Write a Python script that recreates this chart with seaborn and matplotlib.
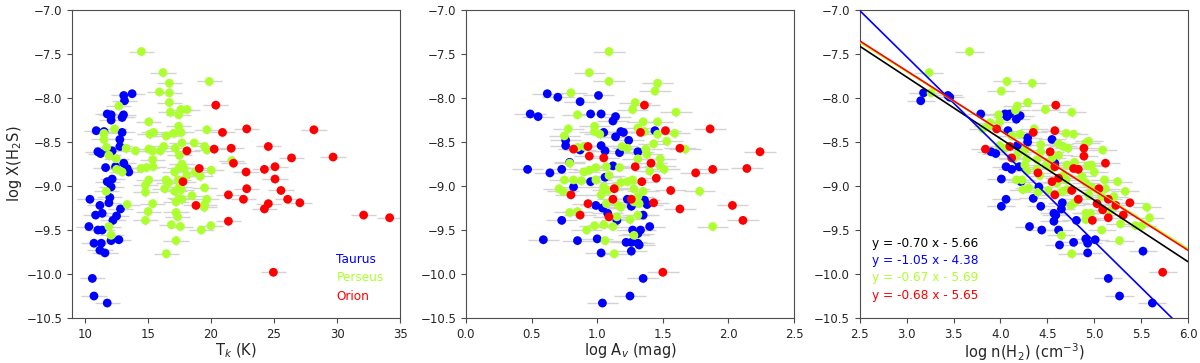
import numpy as np
import pandas as pd
import matplotlib
matplotlib.use('Agg')
import matplotlib.pyplot as plt
import seaborn as sns

# log X(H2S) against kinetic temperature, extinction and density

regions = ['Taurus', 'Perseus', 'Orion']
colors = {'Taurus': 'blue', 'Perseus': 'greenyellow', 'Orion': 'red'}

# panel 1: Tk (K)
tk_taurus = [13.76, 13.1, 13.16, 13.08, 12.97, 11.79, 12.1, 12.1, 10.92, 11.53, 12.97, 12.79, 12.79, 11.79,
             11.05, 11.26, 12.18, 13.1, 11.66, 12.45, 13.5, 13.37, 12.18, 11.79, 12.1, 10.42, 12.0, 11.92,
             11.21, 12.84, 11.39, 10.87, 12.53, 12.24, 10.34, 11.05, 11.39, 12.71, 12.1, 10.74, 11.32, 11.21,
             11.61, 10.61, 10.74, 11.79]
xh2s_tk_taurus = [-7.95, -7.97, -8.03, -8.19, -8.22, -8.18, -8.19, -8.25, -8.37, -8.38, -8.39, -8.47, -8.55,
                  -8.58, -8.61, -8.63, -8.60, -8.74, -8.79, -8.78, -8.84, -8.80, -8.92, -8.95, -9.01, -9.15,
                  -9.13, -9.19, -9.22, -9.26, -9.31, -9.33, -9.34, -9.39, -9.46, -9.50, -9.50, -9.61, -9.62,
                  -9.65, -9.65, -9.73, -9.76, -10.05, -10.25, -10.33]
tk_perseus = [14.5, 16.21, 19.87, 16.71, 15.92, 16.71, 16.71, 12.71, 17.63, 18.1, 16.79, 17.45, 15.08, 12.37,
              19.68, 17.45, 11.53, 15.16, 15.47, 16.47, 17.05, 17.63, 11.53, 17.71, 18.68, 16.26, 17.18, 13.29,
              14.03, 15.08, 15.39, 16.0, 19.5, 19.68, 11.74, 11.92, 12.5, 15.39, 17.5, 21.66, 17.71, 17.5,
              14.47, 14.89, 15.42, 12.53, 12.97, 17.13, 17.89, 20.03, 18.76, 18.1, 19.16, 15.08, 14.82, 16.45,
              16.66, 17.42, 17.5, 14.82, 16.34, 17.13, 17.66, 19.5, 11.71, 18.5, 17.5, 19.68, 17.24, 17.71,
              13.37, 15.39, 19.5, 19.47, 15.03, 17.24, 17.37, 14.82, 16.87, 17.58, 11.92, 20.0, 19.24, 12.1,
              17.24, 16.47]
xh2s_tk_perseus = [-7.47, -7.71, -7.81, -7.83, -7.93, -7.94, -8.05, -8.09, -8.13, -8.13, -8.16, -8.19, -8.27,
                   -8.35, -8.36, -8.32, -8.40, -8.41, -8.39, -8.43, -8.40, -8.39, -8.47, -8.51, -8.51, -8.55,
                   -8.57, -8.57, -8.60, -8.58, -8.60, -8.60, -8.55, -8.59, -8.56, -8.65, -8.69, -8.70, -8.65,
                   -8.71, -8.75, -8.79, -8.80, -8.79, -8.78, -8.81, -8.84, -8.84, -8.80, -8.82, -8.84, -8.88,
                   -8.89, -8.93, -8.99, -8.93, -8.96, -8.93, -9.01, -9.07, -9.03, -9.06, -9.04, -9.02, -9.06,
                   -9.11, -9.14, -9.15, -9.18, -9.15, -9.21, -9.20, -9.21, -9.24, -9.29, -9.30, -9.35, -9.39,
                   -9.44, -9.46, -9.46, -9.45, -9.50, -9.56, -9.62, -9.77]
tk_orion = [20.39, 20.92, 22.84, 28.16, 24.55, 21.61, 20.26, 18.1, 29.68, 26.39, 21.79, 25.08, 19.08, 24.24,
            22.79, 25.08, 17.79, 22.84, 25.55, 21.39, 22.58, 26.08, 27.05, 24.55, 18.82, 24.24, 32.1, 34.16,
            21.39, 24.95]
xh2s_tk_orion = [-8.08, -8.39, -8.35, -8.36, -8.55, -8.57, -8.58, -8.60, -8.67, -8.68, -8.74, -8.78, -8.80,
                 -8.81, -8.84, -8.92, -8.95, -9.03, -9.05, -9.10, -9.15, -9.15, -9.19, -9.20, -9.22, -9.26,
                 -9.33, -9.36, -9.40, -9.98]

# panel 2: log Av (mag)
av_taurus = [0.62, 0.70, 1.01, 0.87, 0.49, 0.55, 0.95, 1.03, 1.14, 1.12, 1.05, 1.14, 1.18, 1.20, 1.44, 0.76,
             0.76, 1.03, 1.24, 0.87, 1.06, 1.17, 1.31, 0.79, 0.47, 0.64, 0.73, 1.12, 0.95, 0.82, 1.06, 0.99,
             1.04, 1.08, 1.15, 1.23, 1.26, 1.36, 1.38, 1.35, 0.73, 1.27, 1.33, 1.31, 1.40, 0.59, 0.85, 1.00,
             1.22, 1.26, 1.31, 1.32, 1.03, 1.26, 1.35, 1.25, 1.04]
xh2s_av_taurus = [-7.95, -7.99, -7.97, -8.04, -8.18, -8.21, -8.18, -8.18, -8.21, -8.26, -8.39, -8.44, -8.38,
                  -8.39, -8.37, -8.48, -8.54, -8.54, -8.48, -8.59, -8.60, -8.62, -8.61, -8.73, -8.81, -8.85,
                  -8.81, -8.77, -8.95, -9.01, -8.90, -9.22, -9.25, -9.31, -9.39, -9.15, -9.23, -9.16, -9.21,
                  -9.33, -9.39, -9.50, -9.50, -9.54, -9.46, -9.61, -9.62, -9.60, -9.64, -9.64, -9.65, -9.67,
                  -9.76, -9.74, -10.05, -10.25, -10.33]
av_perseus = [1.09, 0.94, 1.09, 1.46, 1.44, 0.80, 1.29, 1.27, 0.85, 1.60, 1.35, 1.46, 0.78, 0.98, 1.31, 1.36,
              0.98, 0.75, 1.02, 1.46, 1.59, 1.53, 1.43, 1.19, 1.23, 1.67, 0.85, 0.90, 1.37, 1.38, 1.48, 1.31,
              0.79, 0.99, 1.07, 1.17, 0.94, 0.90, 1.40, 1.48, 1.51, 1.09, 0.75, 0.82, 0.88, 0.99, 1.18, 1.23,
              1.27, 1.05, 0.71, 0.74, 1.08, 1.14, 1.28, 1.35, 1.78, 1.03, 1.31, 1.07, 1.16, 1.18, 1.28, 1.32,
              0.79, 0.85, 1.15, 1.25, 1.31, 0.92, 0.98, 1.05, 1.12, 1.88, 1.28, 1.06, 1.13]
xh2s_av_perseus = [-7.47, -7.71, -7.81, -7.83, -7.92, -7.94, -8.05, -8.13, -8.19, -8.16, -8.27, -8.27, -8.35,
                   -8.32, -8.34, -8.38, -8.38, -8.43, -8.41, -8.41, -8.40, -8.49, -8.52, -8.55, -8.57, -8.58,
                   -8.56, -8.55, -8.58, -8.64, -8.69, -8.69, -8.74, -8.79, -8.78, -8.79, -8.82, -8.84, -8.83,
                   -8.77, -8.81, -8.88, -8.93, -8.93, -8.94, -8.93, -8.96, -8.95, -8.93, -9.01, -9.03, -9.06,
                   -9.05, -9.02, -9.03, -9.06, -9.06, -9.10, -9.12, -9.20, -9.22, -9.24, -9.18, -9.20, -9.30,
                   -9.29, -9.35, -9.38, -9.33, -9.50, -9.45, -9.44, -9.46, -9.46, -9.56, -9.62, -9.77]
av_orion = [1.36, 1.52, 1.33, 1.86, 1.63, 0.82, 0.93, 2.24, 0.94, 1.05, 1.41, 1.29, 1.75, 1.88, 2.14, 1.45,
            1.34, 1.13, 1.56, 0.80, 1.12, 1.26, 0.93, 1.43, 2.03, 1.63, 0.87, 1.09, 2.11, 1.50]
xh2s_av_orion = [-8.08, -8.37, -8.39, -8.35, -8.57, -8.58, -8.55, -8.61, -8.66, -8.68, -8.74, -8.78, -8.85,
                 -8.81, -8.80, -8.91, -8.95, -9.03, -9.05, -9.10, -9.15, -9.15, -9.20, -9.19, -9.22, -9.26,
                 -9.33, -9.35, -9.39, -9.98]

# panel 3: log n(H2) (cm-3)
nh2_taurus = [3.15, 3.18, 3.44, 3.46, 3.79, 4.05, 4.07, 4.10, 4.17, 4.21, 4.08, 4.29, 4.29, 4.55, 4.18, 3.90,
              3.95, 4.06, 4.12, 4.20, 4.01, 4.22, 4.41, 4.58, 4.06, 4.01, 4.35, 4.43, 4.57, 4.59, 4.57, 4.66,
              4.65, 4.81, 4.31, 4.44, 4.62, 4.63, 4.78, 4.91, 4.93, 4.93, 5.01, 5.52, 5.15, 5.27, 5.62]
xh2s_nh2_taurus = [-8.03, -7.94, -7.97, -7.99, -8.18, -8.18, -8.21, -8.18, -8.24, -8.20, -8.37, -8.45, -8.50,
                   -8.47, -8.54, -8.61, -8.63, -8.78, -8.81, -8.78, -8.92, -8.95, -9.01, -8.74, -9.15, -9.23,
                   -9.14, -9.23, -9.31, -9.33, -9.40, -9.19, -9.26, -9.39, -9.46, -9.50, -9.50, -9.67, -9.64,
                   -9.60, -9.65, -9.76, -9.61, -9.74, -10.05, -10.25, -10.33]
nh2_perseus = [3.67, 3.24, 3.26, 4.07, 4.01, 4.34, 4.29, 4.18, 4.16, 4.48, 4.76, 3.98, 3.81, 3.87, 3.89, 3.99,
               4.21, 4.36, 4.70, 4.78, 4.12, 3.99, 4.05, 4.43, 4.62, 4.67, 4.72, 4.91, 4.94, 5.09, 4.18, 4.26,
               4.43, 4.14, 4.28, 4.39, 4.62, 4.55, 4.26, 4.49, 4.55, 4.71, 4.79, 4.93, 4.97, 5.00, 4.28, 4.39,
               4.17, 4.23, 4.42, 4.67, 4.87, 4.60, 4.70, 4.91, 5.11, 5.25, 4.24, 4.30, 4.51, 4.66, 4.71, 4.97,
               5.03, 5.12, 5.33, 4.40, 4.94, 5.08, 5.21, 4.79, 4.75, 5.56, 4.91, 4.96, 5.17, 5.59, 4.91, 5.44,
               5.51, 5.28, 5.08, 4.65, 5.27, 4.76]
xh2s_nh2_perseus = [-7.47, -7.71, -7.94, -7.81, -7.92, -7.83, -8.05, -8.09, -8.14, -8.13, -8.16, -8.19, -8.35,
                    -8.32, -8.28, -8.27, -8.41, -8.35, -8.40, -8.41, -8.43, -8.54, -8.57, -8.53, -8.52, -8.55,
                    -8.57, -8.51, -8.49, -8.59, -8.64, -8.59, -8.61, -8.69, -8.69, -8.70, -8.65, -8.68, -8.76,
                    -8.76, -8.80, -8.76, -8.73, -8.77, -8.76, -8.84, -8.83, -8.81, -8.93, -8.93, -8.88, -8.88,
                    -8.89, -8.97, -8.93, -8.96, -8.93, -8.95, -9.04, -9.02, -9.05, -9.06, -9.04, -9.01, -9.04,
                    -9.03, -9.06, -9.07, -9.10, -9.12, -9.12, -9.19, -9.22, -9.24, -9.31, -9.31, -9.28, -9.36,
                    -9.38, -9.45, -9.45, -9.43, -9.50, -9.56, -9.62, -9.77]
nh2_orion = [4.59, 4.58, 3.96, 4.35, 3.84, 4.10, 4.12, 4.53, 4.89, 4.89, 4.58, 4.78, 4.83, 5.12, 4.40, 4.62,
             4.55, 4.76, 4.58, 5.05, 4.83, 5.15, 5.03, 5.23, 5.38, 5.09, 5.31, 5.15, 4.98, 5.73]
xh2s_nh2_orion = [-8.08, -8.37, -8.35, -8.39, -8.58, -8.55, -8.68, -8.61, -8.57, -8.66, -8.78, -8.80, -8.81,
                  -8.74, -8.85, -8.91, -8.95, -9.05, -9.10, -9.03, -9.15, -9.15, -9.20, -9.22, -9.19, -9.27,
                  -9.33, -9.36, -9.39, -9.98]

# typical uncertainties
tk_err = 1.0
av_err = 0.12
nh2_err = 0.15
xh2s_err = 0.05

# linear fits in the density panel: all, Taurus, Perseus, Orion
fit_labels = ['all', 'Taurus', 'Perseus', 'Orion']
fit_slopes = [-0.70, -1.05, -0.67, -0.68]
fit_intercepts = [-5.66, -4.38, -5.69, -5.65]
fit_colors = ['black', 'blue', 'greenyellow', 'red']


def make_df(xs, ys):
    frames = []
    for reg, x, y in zip(regions, xs, ys):
        frames.append(pd.DataFrame({'x': x, 'y': y, 'region': reg}))
    return pd.concat(frames, ignore_index=True)


df_tk = make_df([tk_taurus, tk_perseus, tk_orion], [xh2s_tk_taurus, xh2s_tk_perseus, xh2s_tk_orion])
df_av = make_df([av_taurus, av_perseus, av_orion], [xh2s_av_taurus, xh2s_av_perseus, xh2s_av_orion])
df_nh2 = make_df([nh2_taurus, nh2_perseus, nh2_orion], [xh2s_nh2_taurus, xh2s_nh2_perseus, xh2s_nh2_orion])

sns.set_style('ticks')
plt.rcParams['font.family'] = ['DejaVu Sans']
plt.rcParams['xtick.labelsize'] = 8.5
plt.rcParams['ytick.labelsize'] = 8.5
plt.rcParams['axes.labelsize'] = 10.5
plt.rcParams['axes.edgecolor'] = '0.3'
plt.rcParams['xtick.color'] = '0.3'
plt.rcParams['ytick.color'] = '0.3'
plt.rcParams['xtick.labelcolor'] = '0.15'
plt.rcParams['ytick.labelcolor'] = '0.15'

fig, axes = plt.subplots(1, 3, figsize=(12, 3.63), dpi=100)
fig.subplots_adjust(left=0.06, right=0.99, bottom=0.124, top=0.972, wspace=0.2)

panels = [(df_tk, tk_err, 'T$_k$ (K)', (9, 35), np.arange(10, 36, 5)),
          (df_av, av_err, 'log A$_v$ (mag)', (0, 2.5), np.arange(0, 2.6, 0.5)),
          (df_nh2, nh2_err, 'log n(H$_2$) (cm$^{-3}$)', (2.5, 6.0), np.arange(2.5, 6.1, 0.5))]

for ax, (df, xerr, xlabel, xlim, xticks) in zip(axes, panels):
    ax.errorbar(df['x'], df['y'], xerr=xerr, yerr=xh2s_err, fmt='none',
                ecolor='lightgray', elinewidth=1, zorder=1)
    sns.scatterplot(data=df, x='x', y='y', hue='region', palette=colors, s=40,
                    linewidth=0, legend=False, ax=ax, zorder=2)
    ax.set_xlim(xlim)
    ax.set_xticks(xticks)
    ax.set_ylim(-10.5, -7.0)
    ax.set_yticks(np.arange(-10.5, -6.9, 0.5))
    ax.set_xlabel(xlabel, labelpad=0.5)
    ax.set_ylabel('')

axes[0].set_ylabel('log X(H$_2$S)', labelpad=2)

# region names in the temperature panel
for i, reg in enumerate(regions):
    axes[0].text(29.95, -9.84 - 0.205 * i, reg, color=colors[reg], va='center', fontsize=8.7)

# fit lines and their equations
ax = axes[2]
xfit = np.array(ax.get_xlim())
for i, (m, b, c) in enumerate(zip(fit_slopes, fit_intercepts, fit_colors)):
    ax.plot(xfit, m * xfit + b, color=c, lw=1.2, zorder=3)
    ax.text(2.63, -9.65 - 0.197 * i, 'y = %.2f x - %.2f' % (m, -b), color=c,
            va='center', fontsize=8.7)
ax.set_xlim(2.5, 6.0)

fig.savefig('out.png')
